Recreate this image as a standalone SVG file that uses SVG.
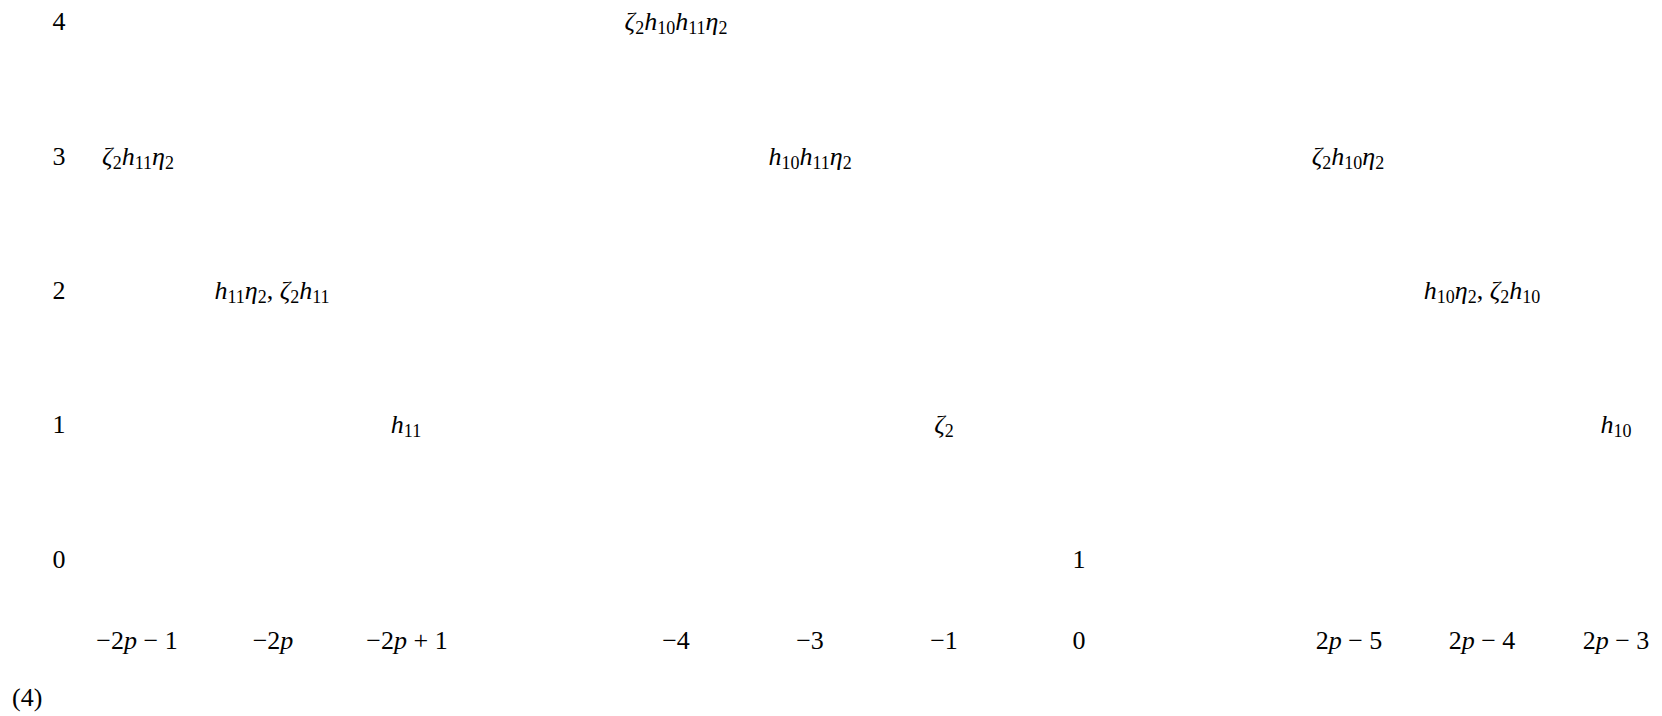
<svg xmlns="http://www.w3.org/2000/svg" width="1662" height="716" viewBox="0 0 1662 716">
<style>
text{font-family:"Liberation Serif","Times New Roman",serif;font-size:26px;fill:#000;text-anchor:middle}
.i{font-style:italic}
.s{font-size:18px}
.l{text-anchor:start}
</style>
<rect width="1662" height="716" fill="#fff"/>
<g id="axis-y">
<text x="59" y="30">4</text>
<text x="59" y="165">3</text>
<text x="59" y="299">2</text>
<text x="59" y="433">1</text>
<text x="59" y="568">0</text>
</g>
<g id="axis-x">
<text x="137" y="649">−2<tspan class="i">p</tspan> − 1</text>
<text x="273" y="649">−2<tspan class="i">p</tspan></text>
<text x="407" y="649">−2<tspan class="i">p</tspan> + 1</text>
<text x="676" y="649">−4</text>
<text x="810" y="649">−3</text>
<text x="944" y="649">−1</text>
<text x="1079" y="649">0</text>
<text x="1349" y="649">2<tspan class="i">p</tspan> − 5</text>
<text x="1482" y="649">2<tspan class="i">p</tspan> − 4</text>
<text x="1616" y="649">2<tspan class="i">p</tspan> − 3</text>
</g>
<g id="n-4-a"><text x="676" y="30"><tspan class="i">ζ</tspan><tspan class="s" dy="4">2</tspan><tspan class="i" dy="-4">h</tspan><tspan class="s" dy="4">10</tspan><tspan class="i" dy="-4">h</tspan><tspan class="s" dy="4">11</tspan><tspan class="i" dy="-4">η</tspan><tspan class="s" dy="4">2</tspan></text></g>
<g id="n-3-a"><text x="138" y="165"><tspan class="i">ζ</tspan><tspan class="s" dy="4">2</tspan><tspan class="i" dy="-4">h</tspan><tspan class="s" dy="4">11</tspan><tspan class="i" dy="-4">η</tspan><tspan class="s" dy="4">2</tspan></text></g>
<g id="n-3-b"><text x="810" y="165"><tspan class="i">h</tspan><tspan class="s" dy="4">10</tspan><tspan class="i" dy="-4">h</tspan><tspan class="s" dy="4">11</tspan><tspan class="i" dy="-4">η</tspan><tspan class="s" dy="4">2</tspan></text></g>
<g id="n-3-c"><text x="1348" y="165"><tspan class="i">ζ</tspan><tspan class="s" dy="4">2</tspan><tspan class="i" dy="-4">h</tspan><tspan class="s" dy="4">10</tspan><tspan class="i" dy="-4">η</tspan><tspan class="s" dy="4">2</tspan></text></g>
<g id="n-2-a"><text x="272" y="299"><tspan class="i">h</tspan><tspan class="s" dy="4">11</tspan><tspan class="i" dy="-4">η</tspan><tspan class="s" dy="4">2</tspan><tspan dy="-4">, </tspan><tspan class="i">ζ</tspan><tspan class="s" dy="4">2</tspan><tspan class="i" dy="-4">h</tspan><tspan class="s" dy="4">11</tspan></text></g>
<g id="n-2-b"><text x="1482" y="299"><tspan class="i">h</tspan><tspan class="s" dy="4">10</tspan><tspan class="i" dy="-4">η</tspan><tspan class="s" dy="4">2</tspan><tspan dy="-4">, </tspan><tspan class="i">ζ</tspan><tspan class="s" dy="4">2</tspan><tspan class="i" dy="-4">h</tspan><tspan class="s" dy="4">10</tspan></text></g>
<g id="n-1-a"><text x="406" y="433"><tspan class="i">h</tspan><tspan class="s" dy="4">11</tspan></text></g>
<g id="n-1-b"><text x="944" y="433"><tspan class="i">ζ</tspan><tspan class="s" dy="4">2</tspan></text></g>
<g id="n-1-c"><text x="1616" y="433"><tspan class="i">h</tspan><tspan class="s" dy="4">10</tspan></text></g>
<g id="n-0-a"><text x="1079" y="568">1</text></g>
<g id="connectors"></g>
<text class="l" x="12" y="706">(4)</text>
</svg>
